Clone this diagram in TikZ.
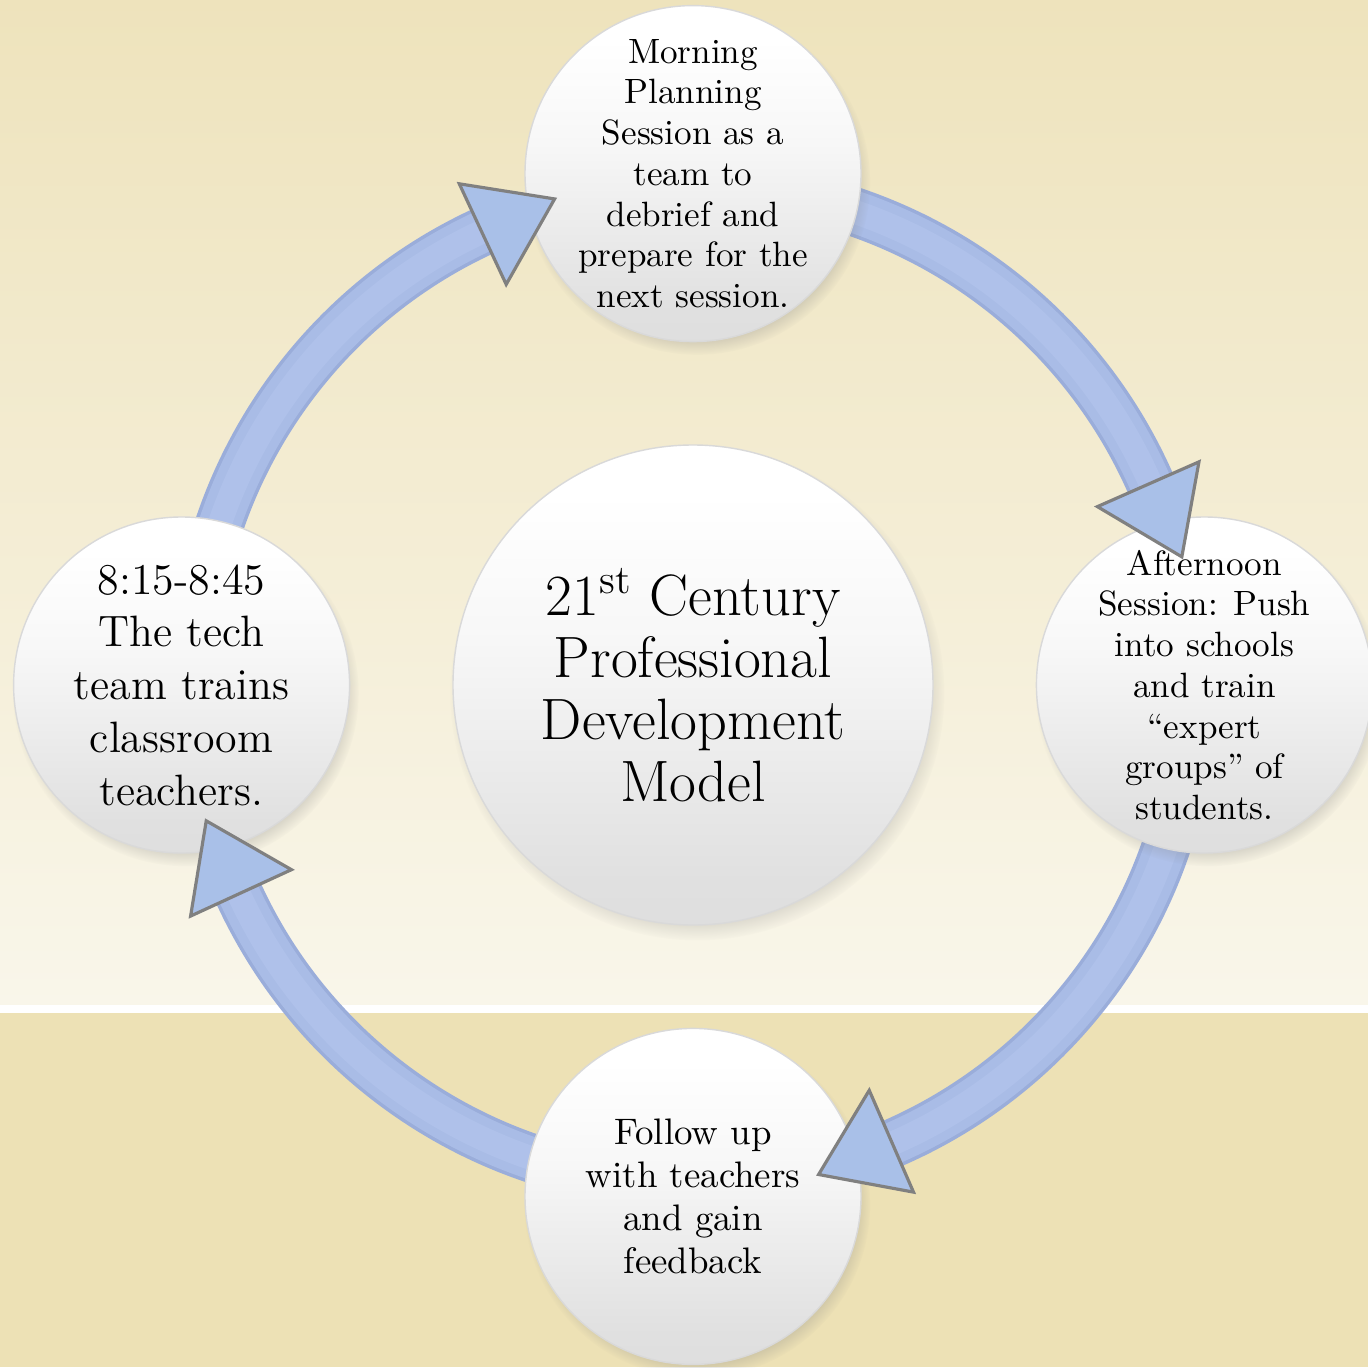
\documentclass[tikz,border=0pt]{standalone}
\usetikzlibrary{positioning, shadows}

\definecolor{sandtop}{HTML}{EEE3BC}
\definecolor{sandlow}{HTML}{F9F6EA}
\definecolor{sandband}{HTML}{EDE1B5}
\definecolor{ringblue}{HTML}{A9BCE6}
\definecolor{ringedge}{HTML}{9AADDA}
\definecolor{ringlight}{HTML}{AFC1EA}
\definecolor{tipblue}{HTML}{A9C0E8}

\pgfdeclareverticalshading{bubble}{100bp}{color(0bp)=(black!17); color(30bp)=(black!12); color(55bp)=(black!3); color(70bp)=(white); color(100bp)=(white)}

\pgfdeclarelayer{back}
\pgfdeclarelayer{ringlayer}
\pgfdeclarelayer{front}
\pgfsetlayers{back,ringlayer,main,front}

\begin{document}
\begin{tikzpicture}[
        hubcircle/.style={circle, draw=black!15, shading=bubble, minimum size=4.8cm, inner sep=0pt, circular drop shadow={shadow xshift=0.4mm, shadow yshift=-0.8mm, shadow scale=1.03, opacity=0.45}},
        stepcircle/.style={hubcircle, minimum size=3.36cm},
        ring/.style={line width=0.49cm, ringedge, postaction={draw, ringblue, line width=0.42cm}, postaction={draw, ringlight, line width=0.24cm}},
        tiptri/.style={draw=black!50, fill=tipblue, line width=0.9pt, line join=miter},
        steptext/.style={align=center, font=\fontsize{10}{11.6}\selectfont},
        hubtext/.style={align=center, font=\fontsize{16.6}{17.6}\selectfont}
    ]
        \useasboundingbox (0,0) rectangle (13.68,13.67);

        % Background
        \begin{pgfonlayer}{back}
            \shade[top color=sandtop, bottom color=sandlow] (0,3.62) rectangle (13.68,13.67);
            \fill[white] (0,3.54) rectangle (13.68,3.62);
            \fill[sandband] (0,0) rectangle (13.68,3.54);
        \end{pgfonlayer}

        % Circles
        \node[hubcircle] (hub) at (6.93,6.82) {};
        \node[stepcircle, above=1.02cm of hub] (morning) {};
        \node[stepcircle, right=1.02cm of hub] (afternoon) {};
        \node[stepcircle, below=1.02cm of hub] (followup) {};
        \node[stepcircle, left=1.02cm of hub] (techteam) {};

        % Ring
        \begin{pgfonlayer}{ringlayer}
            \draw[ring] ([shift={(180:5)}]hub.center) arc[start angle=180, end angle=115, radius=5];
            \draw[ring] ([shift={(90:5)}]hub.center) arc[start angle=90, end angle=23.8, radius=5];
            \draw[ring] ([shift={(0:5)}]hub.center) arc[start angle=0, end angle=-66.5, radius=5];
            \draw[ring] ([shift={(-90:5)}]hub.center) arc[start angle=-90, end angle=-155.3, radius=5];
        \end{pgfonlayer}

        % Arrow heads
        \foreach \a in {115,23.8,-66.5,204.7}
            \draw[tiptri, shift={(hub.center)}, rotate=\a] (4.42,0) -- (5.53,0) -- (4.99,-0.8) -- cycle;

        % Texts
        \begin{pgfonlayer}{front}
            \node[hubtext] (hubtitle) at (hub) {21\textsuperscript{st} Century\\Professional\\Development\\Model};
            \node[steptext] (morningtext) at (morning) {Morning\\Planning\\Session as a\\team to\\debrief and\\prepare for the\\next session.};
            \node[steptext] (afternoontext) at (afternoon) {Afternoon\\Session: Push\\into schools\\and train\\``expert\\groups'' of\\students.};
            \node[steptext, font=\fontsize{10.5}{12.2}\selectfont] (followuptext) at (followup) {Follow up\\with teachers\\and gain\\feedback};
            \node[steptext, font=\fontsize{12.5}{15}\selectfont] (techteamtext) at (techteam) {8:15-8:45\\The tech\\team trains\\classroom\\teachers.};
        \end{pgfonlayer}
    \end{tikzpicture}
\end{document}
